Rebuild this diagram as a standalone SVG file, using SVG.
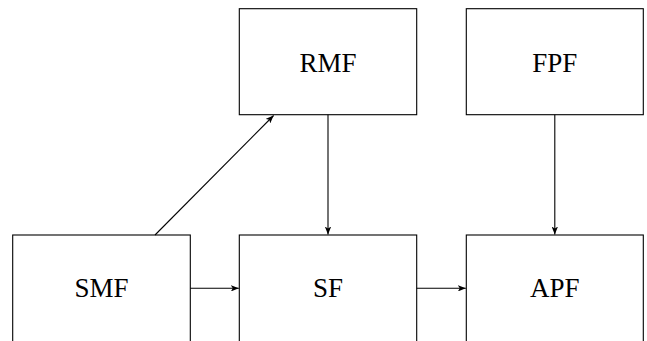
<svg xmlns="http://www.w3.org/2000/svg" width="647" height="341" viewBox="0 0 647 341">
<style>
.box{fill:#fff;stroke:#000;stroke-width:1.1}
.lbl{font-family:"Liberation Serif","Times New Roman",serif;font-size:27px;fill:#000;text-anchor:middle}
.edge{fill:none;stroke:#000;stroke-width:1.1}
</style>
<defs>
<marker id="ah" viewBox="0 0 10 8" refX="10" refY="4" markerWidth="8" markerHeight="6.4" markerUnits="userSpaceOnUse" orient="auto">
<path d="M0,0 L10,4 L0,8 L2.5,4 Z" fill="#000"/>
</marker>
</defs>
<rect width="647" height="341" fill="#fff"/>
<g id="RMF"><rect class="box" x="239.3" y="8.7" width="177.4" height="106"/><text class="lbl" x="328" y="71.5">RMF</text></g>
<g id="FPF"><rect class="box" x="466.3" y="8.7" width="177" height="106"/><text class="lbl" x="554.8" y="71.5">FPF</text></g>
<g id="SMF"><rect class="box" x="12.7" y="235" width="177.6" height="110"/><text class="lbl" x="101.5" y="297">SMF</text></g>
<g id="SF"><rect class="box" x="239.3" y="235" width="177.4" height="110"/><text class="lbl" x="328" y="297">SF</text></g>
<g id="APF"><rect class="box" x="466.3" y="235" width="177" height="110"/><text class="lbl" x="554.8" y="297">APF</text></g>
<g id="edges">
<path class="edge" d="M328,114.7 L328,234.5" marker-end="url(#ah)"/>
<path class="edge" d="M554.8,114.7 L554.8,234.5" marker-end="url(#ah)"/>
<path class="edge" d="M155,235 L273.6,115.5" marker-end="url(#ah)"/>
<path class="edge" d="M190.3,288.3 L238.8,288.3" marker-end="url(#ah)"/>
<path class="edge" d="M416.7,288.3 L465.8,288.3" marker-end="url(#ah)"/>
</g>
</svg>
